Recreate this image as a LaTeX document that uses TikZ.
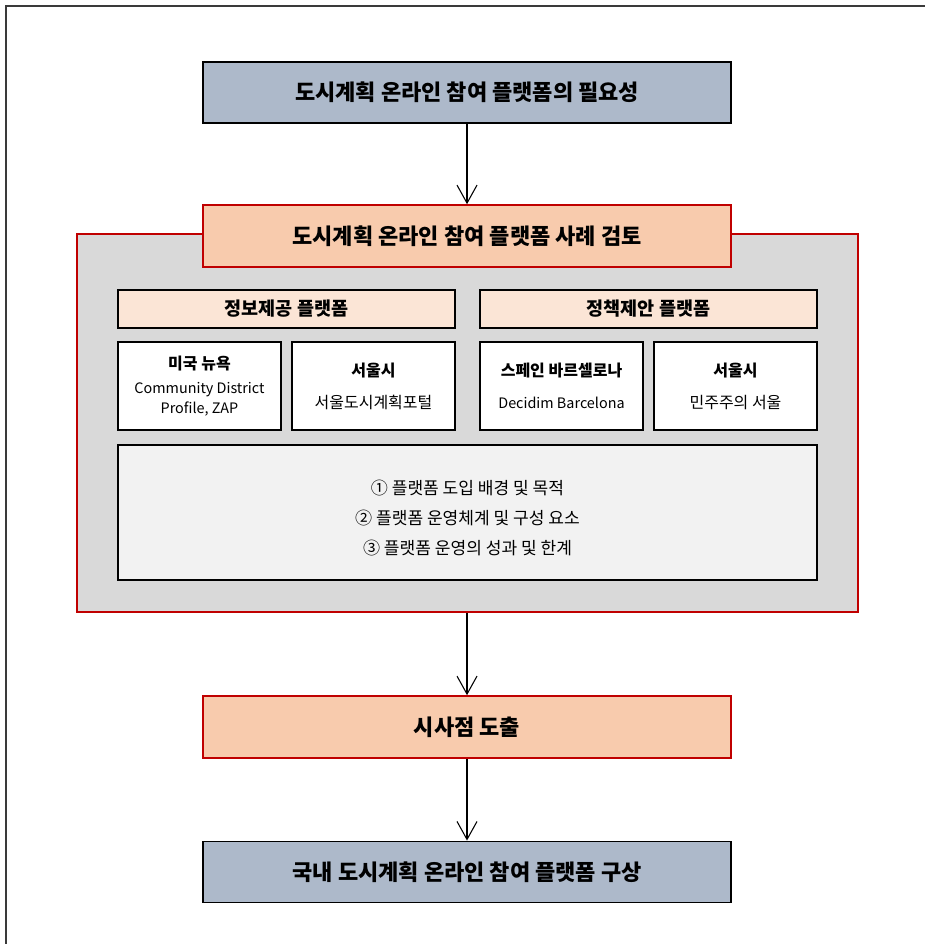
\documentclass[tikz,border=0pt]{standalone}
\usepackage{fontspec}
\setmainfont{Noto Sans CJK KR}
\usetikzlibrary{arrows.meta}
\definecolor{slate}{HTML}{ADB9CA}
\definecolor{peach}{HTML}{F8CBAD}
\definecolor{lightpeach}{HTML}{FBE5D6}
\definecolor{darkred}{HTML}{C00000}
\definecolor{panelgray}{HTML}{D9D9D9}
\definecolor{textgray}{HTML}{F2F2F2}
\definecolor{framegray}{HTML}{3A3A3A}
\newcommand{\latinsize}{\fontsize{10.8}{16}\selectfont}
\newcommand{\korsize}{\fontsize{12}{16}\selectfont}
\tikzset{
  mainbox/.style={draw=black, line width=1.2pt, fill=slate, minimum width=396pt, minimum height=46pt, inner sep=0pt, font=\fontsize{16.5}{19}\selectfont\bfseries},
  redbox/.style={draw=darkred, line width=1.2pt, fill=peach, minimum width=396pt, minimum height=46.5pt, inner sep=0pt, font=\fontsize{16.5}{19}\selectfont\bfseries},
  panelbox/.style={draw=darkred, line width=1.5pt, fill=panelgray, minimum width=585.75pt, minimum height=283.5pt, inner sep=0pt},
  hdrbox/.style={draw=black, line width=1.2pt, fill=lightpeach, minimum width=252.75pt, minimum height=28.5pt, inner sep=0pt, font=\fontsize{13.9}{16}\selectfont\bfseries},
  casebox/.style={draw=black, line width=1.2pt, fill=white, minimum width=122.25pt, minimum height=66pt, inner sep=0pt, align=center, font=\korsize},
  itembox/.style={draw=black, line width=1.2pt, fill=textgray, minimum width=524.25pt, minimum height=101.25pt, inner sep=0pt, align=center, font=\fontsize{12.8}{22.5}\selectfont},
  flowarrow/.style={draw=black, line width=0.8pt, -{Straight Barb[length=13.5pt,width=15pt,line width=0.8pt]}}
}
\begin{document}
\begin{tikzpicture}[x=0.75pt, y=-0.75pt]
\useasboundingbox (0,0) rectangle (925,944);
\draw[framegray, line width=1.4pt] (6,944) -- (6,6) -- (925,6);

\node[mainbox] (need) at (467,92.5) {도시계획 온라인 참여 플랫폼의 필요성};
\node[panelbox] (panel) at (467.5,423) {};
\node[redbox] (review) at (467,236) {도시계획 온라인 참여 플랫폼 사례 검토};

\node[hdrbox] (hdrL) at (286.5,309) {정보제공 플랫폼};
\node[hdrbox] (hdrR) at (648.5,309) {정책제안 플랫폼};

\node[casebox] (nyc) at (199.5,386) {{\bfseries 미국 뉴욕}\\[2pt]{\latinsize Community District}\\[-1pt]{\latinsize Profile, ZAP}};
\node[casebox] (seoul1) at (373.5,386) {{\bfseries 서울시}\\[8pt]서울도시계획포털};
\node[casebox] (bcn) at (561.5,386) {{\bfseries 스페인 바르셀로나}\\[8pt]{\latinsize Decidim Barcelona}};
\node[casebox] (seoul2) at (735.5,386) {{\bfseries 서울시}\\[8pt]민주주의 서울};

\node[itembox] (items) at (467.5,512.5) {\raisebox{-4.5pt}[\height][\depth]{\begin{tabular}{@{}c@{}}① 플랫폼 도입 배경 및 목적\\② 플랫폼 운영체계 및 구성 요소\\③ 플랫폼 운영의 성과 및 한계\end{tabular}}};

\node[redbox] (impl) at (467,727) {시사점 도출};
\node[mainbox] (plan) at (467,872) {국내 도시계획 온라인 참여 플랫폼 구상};

\draw[flowarrow] (need.south) -- (review.north);
\draw[flowarrow] (panel.south -| impl.north) -- (impl.north);
\draw[flowarrow] (impl.south) -- (plan.north);
\end{tikzpicture}
\end{document}
